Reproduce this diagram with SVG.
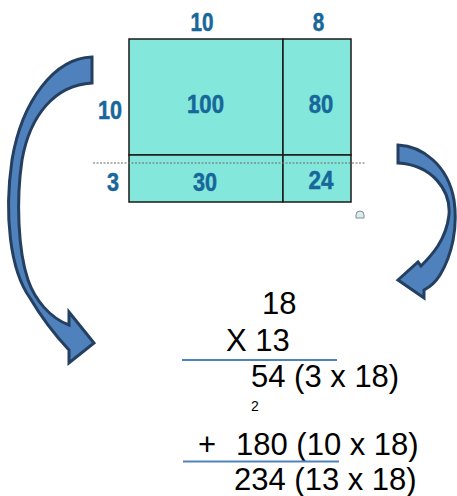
<svg xmlns="http://www.w3.org/2000/svg" width="457" height="496" viewBox="0 0 457 496">
<style>
.lbl{font-family:"Liberation Sans",Arial,sans-serif;font-weight:bold;font-size:25px;fill:#17679a;stroke:#17679a;stroke-width:0.5;text-anchor:middle}
.calc{font-family:"Liberation Sans",Arial,sans-serif;font-size:31px;fill:#000}
.cell{fill:#84e7dc;stroke:#1a1a1a;stroke-width:1.5}
.arrow{fill:#4f81bd;stroke:#243f60;stroke-width:3;stroke-linejoin:miter}
.rule{stroke:#4f81bd;stroke-width:2}
</style>
<rect width="457" height="496" fill="#ffffff"/>
<g id="grid">
  <rect class="cell" x="129" y="39" width="154" height="116"/>
  <rect class="cell" x="283" y="39" width="68" height="116"/>
  <rect class="cell" x="129" y="155" width="154" height="47"/>
  <rect class="cell" x="283" y="155" width="68" height="47"/>
  <line x1="93" y1="163" x2="365" y2="163" stroke="#6a6a6a" stroke-width="1.2" stroke-dasharray="2,1.5"/>
</g>
<g id="labels">
  <text class="lbl" x="202" y="31" textLength="23" lengthAdjust="spacingAndGlyphs">10</text>
  <text class="lbl" x="318.5" y="31" textLength="11.5" lengthAdjust="spacingAndGlyphs">8</text>
  <text class="lbl" x="110" y="119" textLength="24" lengthAdjust="spacingAndGlyphs">10</text>
  <text class="lbl" x="113" y="191" textLength="12" lengthAdjust="spacingAndGlyphs">3</text>
  <text class="lbl" x="205.5" y="113" textLength="37" lengthAdjust="spacingAndGlyphs">100</text>
  <text class="lbl" x="321" y="113" textLength="24.5" lengthAdjust="spacingAndGlyphs">80</text>
  <text class="lbl" x="205" y="191" textLength="24" lengthAdjust="spacingAndGlyphs">30</text>
  <text class="lbl" x="321" y="189" textLength="25" lengthAdjust="spacingAndGlyphs">24</text>
</g>
<g id="marker-glyph">
  <path d="M356,218 L356,215 A4,4 0 0 1 364,215 L364,218 Z" fill="#d8eef4" stroke="#8a8a8a" stroke-width="1"/>
</g>
<g id="connectors">
  <path id="left-arrow" class="arrow" d="M92,57 C55,58 22,100 12,160 C4,215 10,270 30,298 C40,315 55,335 69,350 L69,363 L94,343 L69,312 L69,325 C50,318 35,300 28,280 C18,250 16,200 22,160 C30,115 55,85 92,83 Z"/>
  <path id="right-arrow" class="arrow" d="M398,145 C422,146 448,165 454,200 C458,228 452,255 440,275 C435,283 430,287 424,290 L424,298 L398,280 L418,262 L421,266 C432,255 446,240 449,215 C451,190 432,165 398,163 Z"/>
</g>
<g id="calculation">
  <text class="calc" x="262" y="314">18</text>
  <text class="calc" x="226" y="351">X 13</text>
  <line class="rule" x1="182" y1="360" x2="337" y2="360"/>
  <text class="calc" x="251" y="387">54 (3 x 18)</text>
  <text class="calc" x="251" y="411" style="font-size:14px">2</text>
  <text class="calc" x="198" y="455">+</text>
  <text class="calc" x="236" y="455">180 (10 x 18)</text>
  <line class="rule" x1="183" y1="461.5" x2="339" y2="461.5"/>
  <text class="calc" x="234" y="490">234 (13 x 18)</text>
</g>
</svg>
